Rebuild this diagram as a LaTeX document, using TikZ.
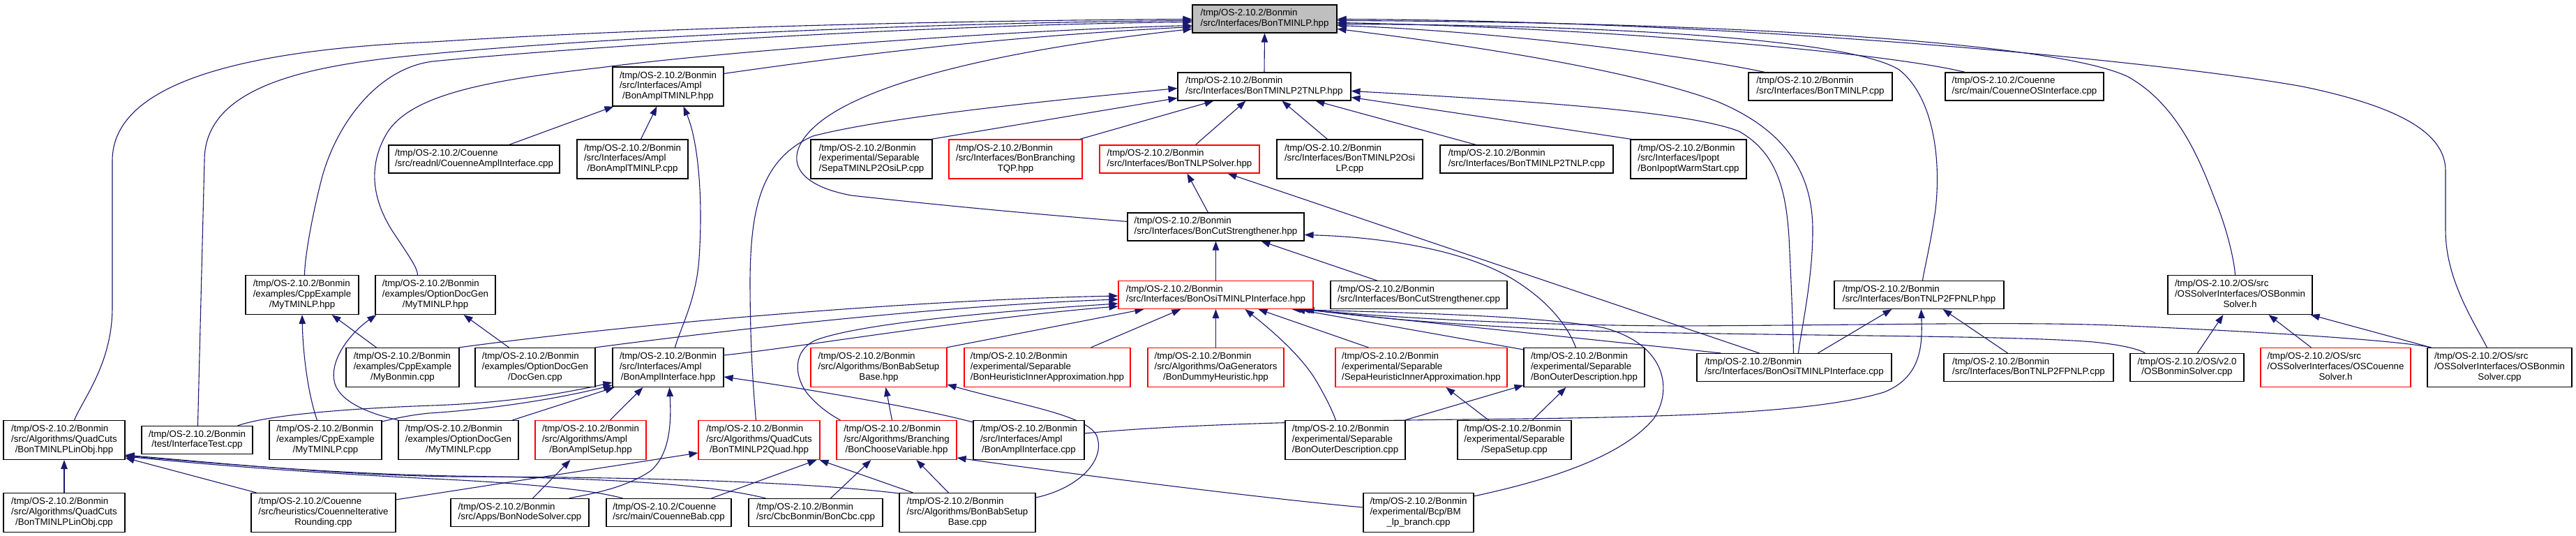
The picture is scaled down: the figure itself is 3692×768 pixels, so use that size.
\documentclass[tikz,border=0pt]{standalone}
\usepackage{fontspec}
\setmainfont{Liberation Sans}
\usetikzlibrary{arrows.meta}
\pgfdeclarelayer{bg}
\pgfsetlayers{bg,main}
\definecolor{edgec}{HTML}{191970}
\definecolor{truncred}{HTML}{FF0000}
\definecolor{rootfill}{HTML}{BFBFBF}
\newcommand\dxfont{\fontsize{13.3}{14.7}\selectfont}
\newcommand\TriL[3]{\begin{tabular}{@{}l@{}}#1\\#2\\\multicolumn{1}{@{}c@{}}{#3}\end{tabular}}
\newcommand\DuoL[2]{\begin{tabular}{@{}l@{}}#1\\\multicolumn{1}{@{}c@{}}{#2}\end{tabular}}
\begin{document}
\begin{tikzpicture}[x=1pt,y=-1pt,
  box/.style={draw=black, fill=white, line width=1.1pt, inner sep=0pt, font=\dxfont, text=black},
  bxtwo/.style={box, minimum height=40pt},
  bxthree/.style={box, minimum height=56pt},
  trunc/.style={draw=truncred},
  dep/.style={draw=edgec, line width=1.1pt, arrows={Triangle[length=13pt,width=9.5pt]-}}]
\useasboundingbox (0,0) rectangle (3692,768);
% row 1
\node[bxtwo, fill=rootfill, minimum width=207pt] (root) at (1812.5,27) {\DuoL{/tmp/OS-2.10.2/Bonmin}{/src/Interfaces/BonTMINLP.hpp}};
% row 2
\node[bxthree, minimum width=159pt] (amplTMh) at (957.5,124) {\TriL{/tmp/OS-2.10.2/Bonmin}{/src/Interfaces/Ampl}{/BonAmplTMINLP.hpp}};
\node[bxtwo, minimum width=248pt] (tnlp2h) at (1812,124) {\DuoL{/tmp/OS-2.10.2/Bonmin}{/src/Interfaces/BonTMINLP2TNLP.hpp}};
\node[bxtwo, minimum width=206pt] (tminlpcpp) at (2609,124) {\DuoL{/tmp/OS-2.10.2/Bonmin}{/src/Interfaces/BonTMINLP.cpp}};
\node[bxtwo, minimum width=227pt] (couOS) at (2901.5,124) {\DuoL{/tmp/OS-2.10.2/Couenne}{/src/main/CouenneOSInterface.cpp}};
% row 3
\node[bxtwo, minimum width=245pt] (couAmpl) at (679.5,228) {\DuoL{/tmp/OS-2.10.2/Couenne}{/src/readnl/CouenneAmplInterface.cpp}};
\node[bxthree, minimum width=159pt] (amplTMc) at (906.5,228) {\TriL{/tmp/OS-2.10.2/Bonmin}{/src/Interfaces/Ampl}{/BonAmplTMINLP.cpp}};
\node[bxthree, minimum width=174pt] (sepaOsiLP) at (1249,228) {\TriL{/tmp/OS-2.10.2/Bonmin}{/experimental/Separable}{/SepaTMINLP2OsiLP.cpp}};
\node[bxthree, trunc, minimum width=191pt] (branchTQP) at (1455.5,228) {\TriL{/tmp/OS-2.10.2/Bonmin}{/src/Interfaces/BonBranching}{TQP.hpp}};
\node[bxtwo, trunc, minimum width=229pt] (tnlpSolver) at (1690.5,228) {\DuoL{/tmp/OS-2.10.2/Bonmin}{/src/Interfaces/BonTNLPSolver.hpp}};
\node[bxthree, minimum width=209pt] (tminlp2osilp) at (1934.5,228) {\TriL{/tmp/OS-2.10.2/Bonmin}{/src/Interfaces/BonTMINLP2Osi}{LP.cpp}};
\node[bxtwo, minimum width=248pt] (tnlp2cpp) at (2188,228) {\DuoL{/tmp/OS-2.10.2/Bonmin}{/src/Interfaces/BonTMINLP2TNLP.cpp}};
\node[bxthree, minimum width=166pt] (warm) at (2420,228) {\TriL{/tmp/OS-2.10.2/Bonmin}{/src/Interfaces/Ipopt}{/BonIpoptWarmStart.cpp}};
% row 4
\node[bxtwo, minimum width=253pt] (cutStrH) at (1742.5,325) {\DuoL{/tmp/OS-2.10.2/Bonmin}{/src/Interfaces/BonCutStrengthener.hpp}};
% row 5
\node[bxthree, minimum width=162pt] (cppMyH) at (433,422.5) {\TriL{/tmp/OS-2.10.2/Bonmin}{/examples/CppExample}{/MyTMINLP.hpp}};
\node[bxthree, minimum width=172pt] (docMyH) at (624,422.5) {\TriL{/tmp/OS-2.10.2/Bonmin}{/examples/OptionDocGen}{/MyTMINLP.hpp}};
\node[bxtwo, trunc, minimum width=279pt] (osiIntH) at (1742.5,422.5) {\DuoL{/tmp/OS-2.10.2/Bonmin}{/src/Interfaces/BonOsiTMINLPInterface.hpp}};
\node[bxtwo, minimum width=253pt] (cutStrC) at (2033.5,422.5) {\DuoL{/tmp/OS-2.10.2/Bonmin}{/src/Interfaces/BonCutStrengthener.cpp}};
\node[bxtwo, minimum width=243pt] (fpnlpH) at (2750.5,422.5) {\DuoL{/tmp/OS-2.10.2/Bonmin}{/src/Interfaces/BonTNLP2FPNLP.hpp}};
\node[bxthree, minimum width=207pt] (osBonH) at (3210.5,422.5) {\TriL{/tmp/OS-2.10.2/OS/src}{/OSSolverInterfaces/OSBonmin}{Solver.h}};
% row 6
\node[bxthree, minimum width=162pt] (myBonmin) at (577,526.5) {\TriL{/tmp/OS-2.10.2/Bonmin}{/examples/CppExample}{/MyBonmin.cpp}};
\node[bxthree, minimum width=172pt] (docGen) at (767,526.5) {\TriL{/tmp/OS-2.10.2/Bonmin}{/examples/OptionDocGen}{/DocGen.cpp}};
\node[bxthree, minimum width=159pt] (amplIntH) at (957.5,526.5) {\TriL{/tmp/OS-2.10.2/Bonmin}{/src/Interfaces/Ampl}{/BonAmplInterface.hpp}};
\node[bxthree, trunc, minimum width=195pt] (babSetupH) at (1259.5,526.5) {\TriL{/tmp/OS-2.10.2/Bonmin}{/src/Algorithms/BonBabSetup}{Base.hpp}};
\node[bxthree, trunc, minimum width=238pt] (heurInner) at (1501,526.5) {\TriL{/tmp/OS-2.10.2/Bonmin}{/experimental/Separable}{/BonHeuristicInnerApproximation.hpp}};
\node[bxthree, trunc, minimum width=195pt] (dummy) at (1742.5,526.5) {\TriL{/tmp/OS-2.10.2/Bonmin}{/src/Algorithms/OaGenerators}{/BonDummyHeuristic.hpp}};
\node[bxthree, trunc, minimum width=246pt] (sepaHeur) at (2037,526.5) {\TriL{/tmp/OS-2.10.2/Bonmin}{/experimental/Separable}{/SepaHeuristicInnerApproximation.hpp}};
\node[bxthree, minimum width=173pt] (outerH) at (2270.5,526.5) {\TriL{/tmp/OS-2.10.2/Bonmin}{/experimental/Separable}{/BonOuterDescription.hpp}};
\node[bxtwo, minimum width=279pt] (osiIntC) at (2571.5,526.5) {\DuoL{/tmp/OS-2.10.2/Bonmin}{/src/Interfaces/BonOsiTMINLPInterface.cpp}};
\node[bxtwo, minimum width=243pt] (fpnlpC) at (2907.5,526.5) {\DuoL{/tmp/OS-2.10.2/Bonmin}{/src/Interfaces/BonTNLP2FPNLP.cpp}};
\node[bxtwo, minimum width=163pt] (osBonV2) at (3134.5,526.5) {\DuoL{/tmp/OS-2.10.2/OS/v2.0}{/OSBonminSolver.cpp}};
\node[bxthree, trunc, minimum width=215pt] (osCou) at (3347.5,526.5) {\TriL{/tmp/OS-2.10.2/OS/src}{/OSSolverInterfaces/OSCouenne}{Solver.h}};
\node[bxthree, minimum width=207pt] (osBonSrc) at (3582.5,526.5) {\TriL{/tmp/OS-2.10.2/OS/src}{/OSSolverInterfaces/OSBonmin}{Solver.cpp}};
% row 7
\node[bxthree, minimum width=174pt] (linObjH) at (92,630.5) {\TriL{/tmp/OS-2.10.2/Bonmin}{/src/Algorithms/QuadCuts}{/BonTMINLPLinObj.hpp}};
\node[bxtwo, minimum width=159pt] (ifTest) at (282.5,630.5) {\DuoL{/tmp/OS-2.10.2/Bonmin}{/test/InterfaceTest.cpp}};
\node[bxthree, minimum width=161pt] (cppMyC) at (466.5,630.5) {\TriL{/tmp/OS-2.10.2/Bonmin}{/examples/CppExample}{/MyTMINLP.cpp}};
\node[bxthree, minimum width=172pt] (docMyC) at (657,630.5) {\TriL{/tmp/OS-2.10.2/Bonmin}{/examples/OptionDocGen}{/MyTMINLP.cpp}};
\node[bxthree, trunc, minimum width=159pt] (amplSetup) at (846.5,630.5) {\TriL{/tmp/OS-2.10.2/Bonmin}{/src/Algorithms/Ampl}{/BonAmplSetup.hpp}};
\node[bxthree, trunc, minimum width=174pt] (quad) at (1088,630.5) {\TriL{/tmp/OS-2.10.2/Bonmin}{/src/Algorithms/QuadCuts}{/BonTMINLP2Quad.hpp}};
\node[bxthree, trunc, minimum width=172pt] (chooseVar) at (1285,630.5) {\TriL{/tmp/OS-2.10.2/Bonmin}{/src/Algorithms/Branching}{/BonChooseVariable.hpp}};
\node[bxthree, minimum width=159pt] (amplIntC) at (1474.5,630.5) {\TriL{/tmp/OS-2.10.2/Bonmin}{/src/Interfaces/Ampl}{/BonAmplInterface.cpp}};
\node[bxthree, minimum width=172pt] (outerC) at (1928,630.5) {\TriL{/tmp/OS-2.10.2/Bonmin}{/experimental/Separable}{/BonOuterDescription.cpp}};
\node[bxthree, minimum width=163pt] (sepaSetup) at (2170.5,630.5) {\TriL{/tmp/OS-2.10.2/Bonmin}{/experimental/Separable}{/SepaSetup.cpp}};
% row 8
\node[bxthree, minimum width=174pt] (linObjC) at (92,734.5) {\TriL{/tmp/OS-2.10.2/Bonmin}{/src/Algorithms/QuadCuts}{/BonTMINLPLinObj.cpp}};
\node[bxthree, minimum width=207pt] (couIter) at (463.5,734.5) {\TriL{/tmp/OS-2.10.2/Couenne}{/src/heuristics/CouenneIterative}{Rounding.cpp}};
\node[bxtwo, minimum width=198pt] (nodeSolver) at (745,734.5) {\DuoL{/tmp/OS-2.10.2/Bonmin}{/src/Apps/BonNodeSolver.cpp}};
\node[bxtwo, minimum width=179pt] (couBab) at (958.5,734.5) {\DuoL{/tmp/OS-2.10.2/Couenne}{/src/main/CouenneBab.cpp}};
\node[bxtwo, minimum width=192pt] (cbc) at (1169,734.5) {\DuoL{/tmp/OS-2.10.2/Bonmin}{/src/CbcBonmin/BonCbc.cpp}};
\node[bxthree, minimum width=195pt] (babSetupC) at (1386.5,734.5) {\TriL{/tmp/OS-2.10.2/Bonmin}{/src/Algorithms/BonBabSetup}{Base.cpp}};
\node[bxthree, minimum width=158pt] (bmlp) at (2033,734.5) {\TriL{/tmp/OS-2.10.2/Bonmin}{/experimental/Bcp/BM}{\_lp\_branch.cpp}};

\begin{pgfonlayer}{bg}
\fill[white] (0,0) rectangle (3692,768);
% into root
\draw[dep] (root.south) -- (tnlp2h.north);
\draw[dep] ([yshift=-32pt]root.north west) .. controls (1450,52) and (1250,75) .. ([yshift=-10pt]amplTMh.north east);
\draw[dep] ([yshift=-21pt]root.north west) .. controls (1300,30) and (900,42) .. (620,60) .. controls (380,70) and (161,110) .. (161,230) -- (161,440) .. controls (161,520) and (120,570) .. ([xshift=102pt]linObjH.north west);
\draw[dep] ([yshift=-23pt]root.north west) .. controls (1300,33) and (850,55) .. (620,77) .. controls (450,92) and (293,120) .. (293,230) -- ([xshift=81pt]ifTest.north west);
\draw[dep] ([yshift=-25pt]root.north west) .. controls (1300,36) and (800,70) .. (620,88) .. controls (540,98) and (480,180) .. (460,260) .. controls (445,320) and (437,370) .. ([xshift=85pt]cppMyH.north west);
\draw[dep] ([yshift=-30pt]root.north west) .. controls (1400,45) and (1000,78) .. (860,97) .. controls (700,115) and (590,135) .. (555,190) .. controls (525,240) and (535,290) .. (565,335) .. controls (585,365) and (599,385) .. ([xshift=61pt]docMyH.north west);
\draw[dep] ([yshift=-35pt]root.north west) .. controls (1450,70) and (1250,115) .. (1175,175) .. controls (1125,215) and (1125,262) .. (1220,280) .. controls (1400,300) and (1550,312) .. ([yshift=-13pt]cutStrH.north west);
\draw[dep] ([yshift=-35pt]root.north east) .. controls (2150,70) and (2350,105) .. (2460,145) .. controls (2570,190) and (2598,260) .. (2598,330) .. controls (2598,400) and (2582,470) .. ([xshift=146pt]osiIntC.north west);
\draw[dep] ([yshift=-30pt]root.north east) .. controls (2150,45) and (2420,80) .. ([xshift=24pt]tminlpcpp.north west);
\draw[dep] ([yshift=-26pt]root.north east) .. controls (2300,40) and (2700,75) .. ([xshift=29pt]couOS.north west);
\draw[dep] ([yshift=-28pt]root.north east) .. controls (2300,36) and (2650,55) .. (2722,100) .. controls (2772,140) and (2782,230) .. (2774,300) .. controls (2767,350) and (2758,385) .. ([xshift=127pt]fpnlpH.north west);
\draw[dep] ([yshift=-23pt]root.north east) .. controls (2500,32) and (2950,62) .. (3050,110) .. controls (3130,155) and (3160,250) .. (3180,300) .. controls (3195,340) and (3203,380) .. ([xshift=97pt]osBonH.north west);
\draw[dep] ([yshift=-21pt]root.north east) .. controls (2500,30) and (3100,88) .. (3300,124) .. controls (3450,155) and (3505,195) .. (3505,245) -- (3505,330) .. controls (3505,400) and (3545,460) .. ([xshift=86pt]osBonSrc.north west);
% into BonAmplTMINLP.hpp
\draw[dep] ([xshift=2pt]amplTMh.south west) -- ([xshift=173pt]couAmpl.north west);
\draw[dep] ([xshift=64pt]amplTMh.south west) -- ([xshift=92pt]amplTMc.north west);
\draw[dep] ([xshift=102pt]amplTMh.south west) .. controls (1000,200) and (1008,280) .. (1002,370) .. controls (998,430) and (975,470) .. ([xshift=90pt]amplIntH.north west);
% into BonTMINLP2TNLP.hpp
\draw[dep] ([yshift=-23pt]tnlp2h.north west) .. controls (1550,140) and (1280,165) .. (1165,195) .. controls (1090,228) and (1076,300) .. (1075,400) .. controls (1075,500) and (1080,560) .. ([xshift=83pt]quad.north west);
\draw[dep] ([yshift=-37pt]tnlp2h.north west) -- ([xshift=-2pt]sepaOsiLP.north east);
\draw[dep] ([xshift=52pt]tnlp2h.south west) -- ([xshift=188pt]branchTQP.north west);
\draw[dep] ([xshift=98pt]tnlp2h.south west) -- ([xshift=138pt]tnlpSolver.north west);
\draw[dep] ([xshift=150pt]tnlp2h.south west) -- ([xshift=73pt]tminlp2osilp.north west);
\draw[dep] ([xshift=198pt]tnlp2h.south west) -- ([xshift=52pt]tnlp2cpp.north west);
\draw[dep] ([yshift=-36pt]tnlp2h.north east) -- ([xshift=2pt]warm.north west);
\draw[dep] ([yshift=-27pt]tnlp2h.north east) .. controls (2200,145) and (2420,160) .. (2492,188) .. controls (2550,220) and (2560,280) .. (2564,340) .. controls (2568,420) and (2570,480) .. ([xshift=139pt]osiIntC.north west);
% into BonTNLPSolver.hpp
\draw[dep] ([xshift=126pt]tnlpSolver.south west) -- ([xshift=116pt]cutStrH.north west);
\draw[dep] ([xshift=184pt]tnlpSolver.south west) -- ([xshift=90pt]osiIntC.north west);
% into BonCutStrengthener.hpp
\draw[dep] (cutStrH.south) -- (osiIntH.north);
\draw[dep] ([xshift=192pt]cutStrH.south west) -- ([xshift=67pt]cutStrC.north west);
\draw[dep] ([yshift=-32pt]cutStrH.north east) .. controls (1990,340) and (2100,360) .. (2165,398) .. controls (2222,432) and (2248,470) .. ([xshift=75pt]outerH.north west);
% into BonOsiTMINLPInterface.hpp
\draw[dep] ([yshift=-22pt]osiIntH.north west) .. controls (1300,430) and (900,465) .. ([xshift=-1pt]myBonmin.north east);
\draw[dep] ([yshift=-27pt]osiIntH.north west) .. controls (1350,438) and (1050,472) .. ([xshift=-1pt]docGen.north east);
\draw[dep] ([yshift=-37pt]osiIntH.north west) .. controls (1400,455) and (1150,497) .. ([yshift=-11pt]amplIntH.north east);
\draw[dep] ([yshift=-33pt]osiIntH.north west) .. controls (1400,448) and (1230,465) .. (1170,487) .. controls (1135,502) and (1138,540) .. (1158,565) .. controls (1175,585) and (1195,597) .. ([xshift=6pt]chooseVar.north west);
\draw[dep] ([xshift=37pt]osiIntH.south west) -- ([xshift=-1pt]babSetupH.north east);
\draw[dep] ([xshift=90pt]osiIntH.south west) -- ([xshift=182pt]heurInner.north west);
\draw[dep] (osiIntH.south) -- (dummy.north);
\draw[dep] ([xshift=182pt]osiIntH.south west) .. controls (1812,465) and (1862,505) .. (1886,545) .. controls (1902,572) and (1910,590) .. ([xshift=73pt]outerC.north west);
\draw[dep] ([xshift=201pt]osiIntH.south west) -- ([xshift=48pt]sepaHeur.north west);
\draw[dep] ([xshift=255pt]osiIntH.south west) -- ([yshift=-3pt]outerH.north west);
\draw[dep] ([xshift=249pt]osiIntH.south west) .. controls (1950,447) and (2200,450) .. (2300,470) .. controls (2390,495) and (2397,560) .. (2370,600) .. controls (2320,660) and (2200,692) .. ([yshift=-5pt]bmlp.north east);
\draw[dep] ([xshift=262pt]osiIntH.south west) -- ([xshift=35pt]osiIntC.north west);
\draw[dep] ([xshift=265pt]osiIntH.south west) .. controls (2000,456) and (2200,466) .. (2400,467) .. controls (2700,466) and (2900,460) .. (3050,467) .. controls (3300,478) and (3450,490) .. ([xshift=6pt]osBonSrc.north west);
\draw[dep] ([xshift=268pt]osiIntH.south west) .. controls (2000,460) and (2200,474) .. (2400,477) .. controls (2700,482) and (2900,482) .. (3000,490) .. controls (3040,494) and (3065,500) .. ([xshift=22pt]osBonV2.north west);
% examples
\draw[dep] (cppMyH.south) .. controls (434,500) and (440,560) .. ([xshift=69pt]cppMyC.north west);
\draw[dep] ([xshift=-39pt]cppMyH.south east) -- ([xshift=44pt]myBonmin.north west);
\draw[dep] ([xshift=-46pt]docMyH.south east) -- ([xshift=49pt]docGen.north west);
\draw[dep] ([xshift=2pt]docMyH.south west) .. controls (505,475) and (470,515) .. (480,550) .. controls (490,580) and (540,595) .. (docMyC.north west);
% into BonAmplInterface.hpp
\draw[dep] ([yshift=-50pt]amplIntH.north west) .. controls (780,570) and (700,578) .. (620,581) .. controls (480,586) and (380,596) .. ([xshift=-22pt]ifTest.north east);
\draw[dep] ([yshift=-54pt]amplIntH.north west) .. controls (780,576) and (680,588) .. (615,592) .. controls (585,595) and (565,600) .. ([yshift=-2pt]cppMyC.north east);
\draw[dep] ([xshift=3pt]amplIntH.south west) -- ([xshift=-9pt]docMyC.north east);
\draw[dep] ([xshift=44pt]amplIntH.south west) -- ([xshift=108pt]amplSetup.north west);
\draw[dep] ([xshift=82pt]amplIntH.south west) .. controls (962,600) and (962,650) .. (932,675) .. controls (895,700) and (845,708) .. ([xshift=-29pt]nodeSolver.north east);
\draw[dep] ([yshift=-42pt]amplIntH.north east) .. controls (1120,552) and (1300,580) .. ([yshift=-3pt]amplIntC.north west);
% into BonBabSetupBase.hpp
\draw[dep] ([xshift=108pt]babSetupH.south west) -- ([xshift=80pt]chooseVar.north west);
\draw[dep] ([yshift=-53pt]babSetupH.north east) .. controls (1460,580) and (1560,595) .. (1572,625) .. controls (1585,660) and (1545,700) .. ([yshift=-7pt]babSetupC.north east);
% Separable
\draw[dep] ([yshift=-54pt]outerH.north west) -- ([xshift=-1pt]outerC.north east);
\draw[dep] ([xshift=61pt]outerH.south west) -- ([xshift=108pt]sepaSetup.north west);
\draw[dep] ([xshift=159pt]sepaHeur.south west) -- ([xshift=45pt]sepaSetup.north west);
% into BonTNLP2FPNLP.hpp
\draw[dep] ([xshift=83pt]fpnlpH.south west) -- ([xshift=174pt]osiIntC.north west);
\draw[dep] ([xshift=156pt]fpnlpH.south west) -- ([xshift=92pt]fpnlpC.north west);
\draw[dep] ([xshift=125pt]fpnlpH.south west) .. controls (2755,490) and (2756,540) .. (2700,562) .. controls (2600,592) and (2400,598) .. (2100,601) .. controls (1800,604) and (1650,612) .. ([yshift=-19pt]amplIntC.north east);
% into OSBonminSolver.h
\draw[dep] ([xshift=80pt]osBonH.south west) -- ([xshift=97pt]osBonV2.north west);
\draw[dep] ([xshift=145pt]osBonH.south west) -- ([xshift=73pt]osCou.north west);
\draw[dep] ([xshift=-3pt]osBonH.south east) -- ([xshift=6pt]osBonSrc.north west);
% into BonTMINLPLinObj.hpp
\draw[dep] (linObjH.south) -- (linObjC.north);
\draw[dep] ([yshift=-54pt]linObjH.north east) -- ([xshift=8pt]couIter.north west);
\draw[dep] ([yshift=-52pt]linObjH.north east) .. controls (350,671) and (500,680) .. (620,686) .. controls (750,692) and (850,702) .. ([xshift=24pt]couBab.north west);
\draw[dep] ([yshift=-51pt]linObjH.north east) .. controls (350,668) and (500,679) .. (650,682) .. controls (850,685) and (1010,692) .. ([xshift=25pt]cbc.north west);
\draw[dep] ([yshift=-50pt]linObjH.north east) .. controls (350,667) and (500,681) .. (650,683) .. controls (900,683) and (1150,690) .. ([yshift=-1pt]babSetupC.north west);
% bottom rows
\draw[dep] ([xshift=51pt]amplSetup.south west) -- ([xshift=118pt]nodeSolver.north west);
\draw[dep] ([yshift=-47pt]quad.north west) -- ([yshift=-10pt]couIter.north east);
\draw[dep] ([xshift=-5pt]quad.south east) -- ([xshift=-29pt]couBab.north east);
\draw[dep] ([xshift=-1pt]quad.south east) -- ([xshift=20pt]babSetupC.north west);
\draw[dep] ([xshift=50pt]chooseVar.south west) -- ([xshift=118pt]cbc.north west);
\draw[dep] ([xshift=115pt]chooseVar.south west) -- ([xshift=71pt]babSetupC.north west);
\draw[dep] ([yshift=-54pt]chooseVar.north east) .. controls (1600,688) and (1850,718) .. ([yshift=-21pt]bmlp.north west);
\end{pgfonlayer}
\end{tikzpicture}
\end{document}
